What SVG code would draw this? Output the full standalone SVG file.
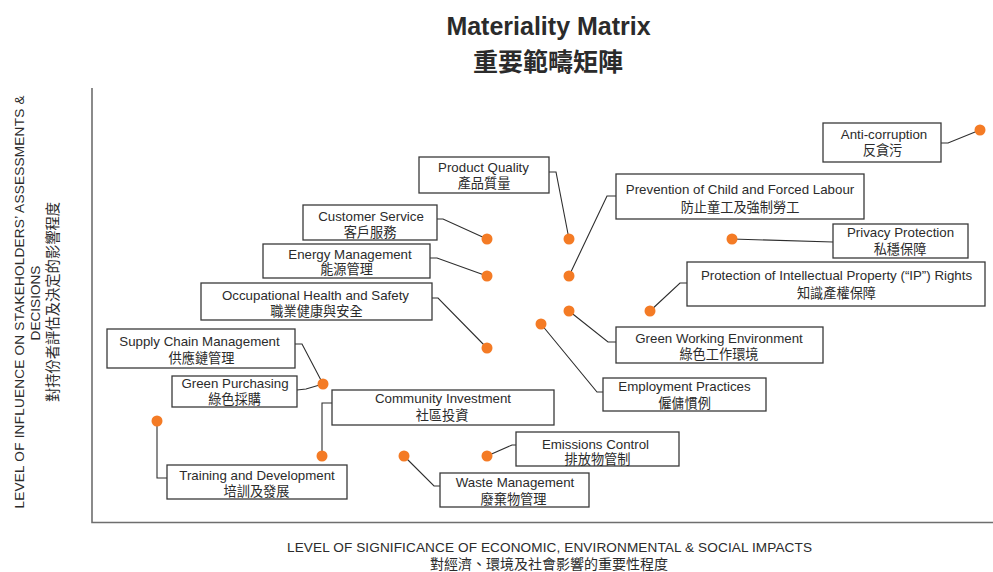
<svg xmlns="http://www.w3.org/2000/svg" width="993" height="572" viewBox="0 0 993 572">
<style>
text{font-family:"Liberation Sans","Noto Sans CJK TC",sans-serif;fill:#2b2b2b;text-anchor:middle}
.en{font-size:13.3px}
.zh{font-size:13.2px;font-family:"Noto Sans CJK TC","Liberation Sans",sans-serif}
.box{fill:#fff;stroke:#3a3a3a;stroke-width:1.3}
.dot{fill:#F47B25}
.conn{fill:none;stroke:#2e2e2e;stroke-width:1.1}
.axis{stroke:#6e6e6e;stroke-width:1.6;fill:none}
.ax{font-size:13.6px}
.axzh{font-size:14px;font-family:"Noto Sans CJK TC","Liberation Sans",sans-serif}
</style>
<rect width="993" height="572" fill="#fff"/>
<g id="title">
<text x="548.5" y="35" style="font-size:25px;font-weight:bold">Materiality Matrix</text>
<text x="548" y="71" style="font-size:25px;font-weight:bold;font-family:'Noto Sans CJK TC',sans-serif">重要範疇矩陣</text>
</g>
<g id="axes">
<polyline class="axis" points="92,88 92,522.5 993,522.5"/>
<text class="ax" x="549.5" y="552" textLength="525" lengthAdjust="spacing">LEVEL OF SIGNIFICANCE OF ECONOMIC, ENVIRONMENTAL &amp; SOCIAL IMPACTS</text>
<text class="axzh" x="549" y="569">對經濟、環境及社會影響的重要性程度</text>
<g transform="translate(24,302) rotate(-90)"><text class="ax" x="0" y="0" textLength="413" lengthAdjust="spacing">LEVEL OF INFLUENCE ON STAKEHOLDERS’ ASSESSMENTS &amp;</text></g>
<g transform="translate(40,303) rotate(-90)"><text class="ax" x="0" y="0">DECISIONS</text></g>
<g transform="translate(57.5,302) rotate(-90)"><text class="axzh" x="0" y="0" style="font-size:14.3px">對持份者評估及決定的影響程度</text></g>
</g>
<g id="connectors">
<polyline class="conn" points="549,172 556,172 569,239"/>
<polyline class="conn" points="437,219 443,219 487,239"/>
<polyline class="conn" points="430,258 437,258 487,276"/>
<polyline class="conn" points="432,298 438,298 487,348"/>
<polyline class="conn" points="295,344 302,344 323,384"/>
<polyline class="conn" points="297,390 306,389 323,384"/>
<polyline class="conn" points="332,403 322,403 322,456"/>
<polyline class="conn" points="157,421 157,478 167,478"/>
<polyline class="conn" points="404,456 434,486 440,486"/>
<polyline class="conn" points="487,456 512,445 516,445"/>
<polyline class="conn" points="541,324 597,392 603,392"/>
<polyline class="conn" points="941,143 948,143 980,130"/>
<polyline class="conn" points="616,196 607,196 569,276"/>
<polyline class="conn" points="732,239 833,242"/>
<polyline class="conn" points="687,283 680,283 650,311"/>
<polyline class="conn" points="569,311 608,342 616,342"/>
</g>
<g id="product-quality">
<rect class="box" x="419" y="157" width="130" height="36"/>
<text class="en" x="483.5" y="171.5">Product Quality</text>
<text class="zh" x="484" y="187.5">產品質量</text>
<circle class="dot" cx="569" cy="239" r="5.5"/>
</g>
<g id="customer-service">
<rect class="box" x="303" y="205" width="134" height="35"/>
<text class="en" x="371" y="220.5">Customer Service</text>
<text class="zh" x="370" y="236.5">客戶服務</text>
<circle class="dot" cx="487" cy="239" r="5.5"/>
</g>
<g id="energy-management">
<rect class="box" x="263" y="244" width="167" height="34"/>
<text class="en" x="350" y="258.5">Energy Management</text>
<text class="zh" x="346.5" y="273.5">能源管理</text>
<circle class="dot" cx="487" cy="276" r="5.5"/>
</g>
<g id="occupational-health">
<rect class="box" x="201" y="283" width="231" height="37"/>
<text class="en" x="315.5" y="300">Occupational Health and Safety</text>
<text class="zh" x="316.5" y="315.5">職業健康與安全</text>
<circle class="dot" cx="487" cy="348" r="5.5"/>
</g>
<g id="supply-chain">
<rect class="box" x="107" y="329" width="188" height="39"/>
<text class="en" x="199.5" y="346">Supply Chain Management</text>
<text class="zh" x="201.5" y="362.5">供應鏈管理</text>
</g>
<g id="green-purchasing">
<rect class="box" x="172" y="376" width="125" height="31"/>
<text class="en" x="235" y="388">Green Purchasing</text>
<text class="zh" x="234.5" y="404">綠色採購</text>
<circle class="dot" cx="323" cy="384" r="5.5"/>
</g>
<g id="community-investment">
<rect class="box" x="332" y="390" width="222" height="35"/>
<text class="en" x="443" y="402.5">Community Investment</text>
<text class="zh" x="442" y="419.5">社區投資</text>
<circle class="dot" cx="322" cy="456" r="5.5"/>
</g>
<g id="training">
<rect class="box" x="167" y="465" width="180" height="34"/>
<text class="en" x="257" y="479.5">Training and Development</text>
<text class="zh" x="256.5" y="495.5">培訓及發展</text>
<circle class="dot" cx="157" cy="421" r="5.5"/>
</g>
<g id="waste-management">
<rect class="box" x="440" y="473" width="149" height="34"/>
<text class="en" x="515" y="487">Waste Management</text>
<text class="zh" x="513.5" y="503.5">廢棄物管理</text>
<circle class="dot" cx="404" cy="456" r="5.5"/>
</g>
<g id="emissions-control">
<rect class="box" x="516" y="432" width="163" height="34"/>
<text class="en" x="595.5" y="448.5">Emissions Control</text>
<text class="zh" x="597.5" y="463.5">排放物管制</text>
<circle class="dot" cx="487" cy="456" r="5.5"/>
</g>
<g id="employment-practices">
<rect class="box" x="603" y="378" width="163" height="33"/>
<text class="en" x="684.5" y="391">Employment Practices</text>
<text class="zh" x="684.5" y="408">僱傭慣例</text>
<circle class="dot" cx="541" cy="324" r="5.5"/>
</g>
<g id="anti-corruption">
<rect class="box" x="823" y="123" width="118" height="39"/>
<text class="en" x="884" y="138.5">Anti-corruption</text>
<text class="zh" x="882.5" y="154.5">反貪污</text>
<circle class="dot" cx="980" cy="130" r="5.5"/>
</g>
<g id="child-forced-labour">
<rect class="box" x="616" y="174" width="248" height="45"/>
<text class="en" x="740" y="193.5">Prevention of Child and Forced Labour</text>
<text class="zh" x="740" y="212">防止童工及強制勞工</text>
<circle class="dot" cx="569" cy="276" r="5.5"/>
</g>
<g id="privacy-protection">
<rect class="box" x="833" y="224" width="135" height="34"/>
<text class="en" x="900.5" y="237">Privacy Protection</text>
<text class="zh" x="900" y="253.5">私穩保障</text>
<circle class="dot" cx="732" cy="239" r="5.5"/>
</g>
<g id="ip-rights">
<rect class="box" x="687" y="262" width="298" height="44"/>
<text class="en" x="836.5" y="279.5">Protection of Intellectual Property (“IP”) Rights</text>
<text class="zh" x="836.5" y="298">知識產權保障</text>
<circle class="dot" cx="650" cy="311" r="5.5"/>
</g>
<g id="green-working">
<rect class="box" x="616" y="327" width="207" height="36"/>
<text class="en" x="719" y="342.5">Green Working Environment</text>
<text class="zh" x="719" y="358.5">綠色工作環境</text>
<circle class="dot" cx="569" cy="311" r="5.5"/>
</g>
</svg>
